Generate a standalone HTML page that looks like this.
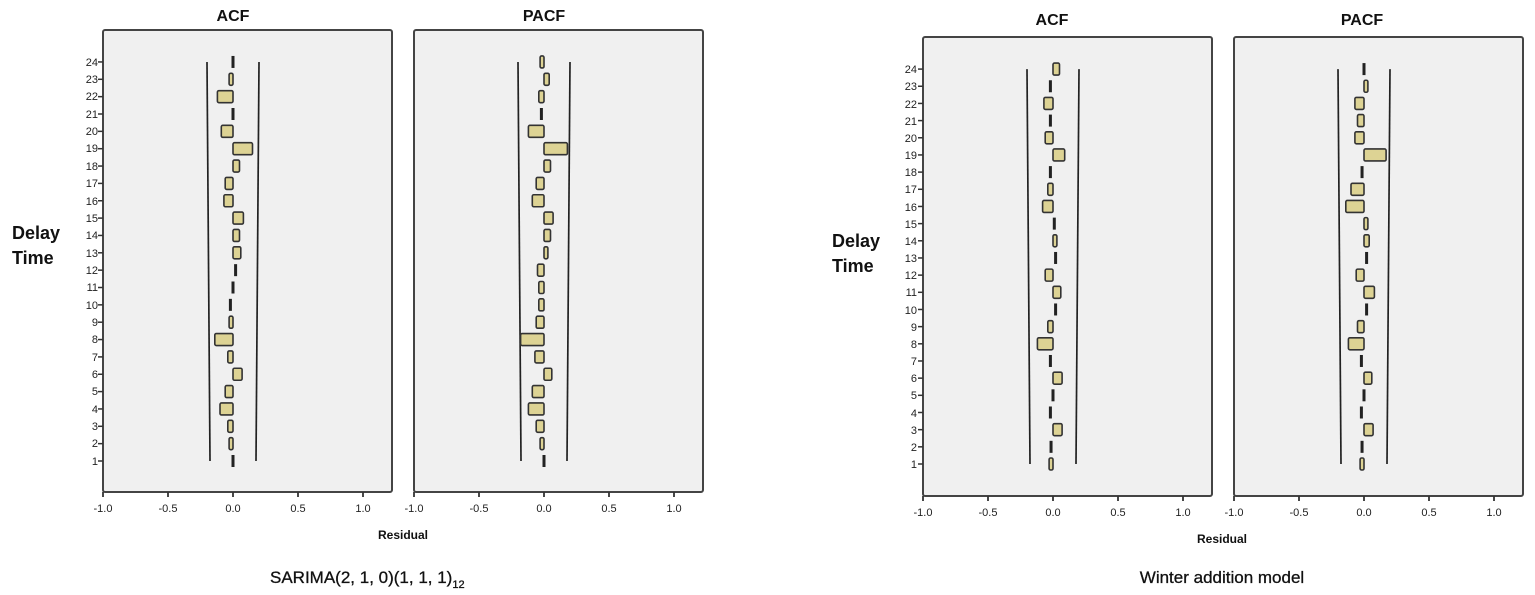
<!DOCTYPE html>
<html><head><meta charset="utf-8"><style>
html,body{margin:0;padding:0;background:#fff;width:1535px;height:595px;overflow:hidden}
svg{display:block;font-family:"Liberation Sans",sans-serif}
.t{font-size:11px;fill:#222}
.h{font-size:16px;font-weight:bold;fill:#111}
</style></head><body>
<svg id="s" width="1535" height="595" xmlns="http://www.w3.org/2000/svg">
<rect x="0" y="0" width="1535" height="595" fill="#fff"/>
<g id="g"></g>
<text class="h" x="233" y="21" text-anchor="middle">ACF</text>
<text class="h" x="544" y="21" text-anchor="middle">PACF</text>
<text class="h" x="1052" y="25" text-anchor="middle">ACF</text>
<text class="h" x="1362" y="25" text-anchor="middle">PACF</text>
<text x="12" y="239" style="font-size:18px;font-weight:bold;fill:#111">Delay</text>
<text x="12" y="264" style="font-size:18px;font-weight:bold;fill:#111">Time</text>
<text x="832" y="247" style="font-size:18px;font-weight:bold;fill:#111">Delay</text>
<text x="832" y="272" style="font-size:18px;font-weight:bold;fill:#111">Time</text>
<text x="403" y="539" text-anchor="middle" style="font-size:12px;font-weight:bold;fill:#111">Residual</text>
<text x="1222" y="543" text-anchor="middle" style="font-size:12px;font-weight:bold;fill:#111">Residual</text>
<text x="270" y="583" style="font-size:17px;fill:#111;font-weight:500;stroke:#111;stroke-width:0.3">SARIMA(2, 1, 0)(1, 1, 1)<tspan dy="5" style="font-size:11px">12</tspan></text>
<text x="1222" y="583" text-anchor="middle" style="font-size:17px;fill:#111;stroke:#111;stroke-width:0.3">Winter addition model</text>
<g class="t" text-anchor="end">
<text x="98" y="465">1</text><text x="98" y="447">2</text><text x="98" y="430">3</text><text x="98" y="413">4</text><text x="98" y="395">5</text><text x="98" y="378">6</text><text x="98" y="361">7</text><text x="98" y="343">8</text><text x="98" y="326">9</text><text x="98" y="309">10</text><text x="98" y="291">11</text><text x="98" y="274">12</text><text x="98" y="257">13</text><text x="98" y="239">14</text><text x="98" y="222">15</text><text x="98" y="205">16</text><text x="98" y="187">17</text><text x="98" y="170">18</text><text x="98" y="152">19</text><text x="98" y="135">20</text><text x="98" y="118">21</text><text x="98" y="100">22</text><text x="98" y="83">23</text><text x="98" y="66">24</text>
<text x="917" y="468">1</text><text x="917" y="451">2</text><text x="917" y="434">3</text><text x="917" y="417">4</text><text x="917" y="399">5</text><text x="917" y="382">6</text><text x="917" y="365">7</text><text x="917" y="348">8</text><text x="917" y="331">9</text><text x="917" y="314">10</text><text x="917" y="296">11</text><text x="917" y="279">12</text><text x="917" y="262">13</text><text x="917" y="245">14</text><text x="917" y="228">15</text><text x="917" y="211">16</text><text x="917" y="193">17</text><text x="917" y="176">18</text><text x="917" y="159">19</text><text x="917" y="142">20</text><text x="917" y="125">21</text><text x="917" y="108">22</text><text x="917" y="90">23</text><text x="917" y="73">24</text>
</g>
<g class="t" text-anchor="middle">
<text x="103" y="512">-1.0</text><text x="168" y="512">-0.5</text><text x="233" y="512">0.0</text><text x="298" y="512">0.5</text><text x="363" y="512">1.0</text>
<text x="414" y="512">-1.0</text><text x="479" y="512">-0.5</text><text x="544" y="512">0.0</text><text x="609" y="512">0.5</text><text x="674" y="512">1.0</text>
<text x="923" y="516">-1.0</text><text x="988" y="516">-0.5</text><text x="1053" y="516">0.0</text><text x="1118" y="516">0.5</text><text x="1183" y="516">1.0</text>
<text x="1234" y="516">-1.0</text><text x="1299" y="516">-0.5</text><text x="1364" y="516">0.0</text><text x="1429" y="516">0.5</text><text x="1494" y="516">1.0</text>
</g>
</svg>
<script>
var g=document.getElementById('g'),NS='http://www.w3.org/2000/svg';
function el(n,a){var e=document.createElementNS(NS,n);for(var k in a)e.setAttribute(k,a[k]);g.appendChild(e);return e;}
function panel(x0,top,bot,y1,step,vals,ticks){
 var right=x0+289;
 el('rect',{x:x0,y:top,width:right-x0,height:bot-top,fill:'#f0f0f0',stroke:'#444','stroke-width':2,rx:2});
 var zx=x0+130;
 for(var i=0;i<5;i++){var tx=x0+i*65;el('line',{x1:tx,y1:bot,x2:tx,y2:bot+5,stroke:'#333','stroke-width':1.8});}
 if(ticks)for(var l=1;l<=24;l++){var yy=y1-(l-1)*step;el('line',{x1:x0-5,y1:yy,x2:x0,y2:yy,stroke:'#333','stroke-width':1.5});}
 var ytop=y1-23*step;
 el('line',{x1:zx-26,y1:ytop,x2:zx-23,y2:y1,stroke:'#222','stroke-width':1.7});
 el('line',{x1:zx+26,y1:ytop,x2:zx+23,y2:y1,stroke:'#222','stroke-width':1.7});
 for(var l=1;l<=24;l++){var v=vals[l-1],yy=y1-(l-1)*step,w=Math.abs(v)*130;
  if(w<3){el('rect',{x:zx-1.5+v*130,y:yy-6,width:3,height:12,fill:'#222'});}
  else el('rect',{x:v<0?zx-w:zx,y:yy-6,width:w,height:12,fill:'#ddd394',stroke:'#333','stroke-width':1.6,rx:1.5});
 }
}
var a1=[0,-0.03,-0.04,-0.1,-0.06,0.07,-0.04,-0.14,-0.03,-0.02,0,0.02,0.06,0.05,0.08,-0.07,-0.06,0.05,0.15,-0.09,0,-0.12,-0.03,0];
var p1=[0,-0.03,-0.06,-0.12,-0.09,0.06,-0.07,-0.18,-0.06,-0.04,-0.04,-0.05,0.03,0.05,0.07,-0.09,-0.06,0.05,0.18,-0.12,-0.02,-0.04,0.04,-0.03];
var a2=[-0.03,-0.015,0.07,-0.02,0,0.07,-0.02,-0.12,-0.04,0.02,0.06,-0.06,0.02,0.03,0.01,-0.08,-0.04,-0.02,0.09,-0.06,-0.02,-0.07,-0.02,0.05];
var p2=[-0.03,-0.015,0.07,-0.02,0,0.06,-0.02,-0.12,-0.05,0.02,0.08,-0.06,0.02,0.04,0.03,-0.14,-0.1,-0.015,0.17,-0.07,-0.05,-0.07,0.03,0];
panel(103,30,492,461,17.35,a1,true);
panel(414,30,492,461,17.35,p1,false);
panel(923,37,496,464,17.17,a2,true);
panel(1234,37,496,464,17.17,p2,false);
</script>
</body></html>
